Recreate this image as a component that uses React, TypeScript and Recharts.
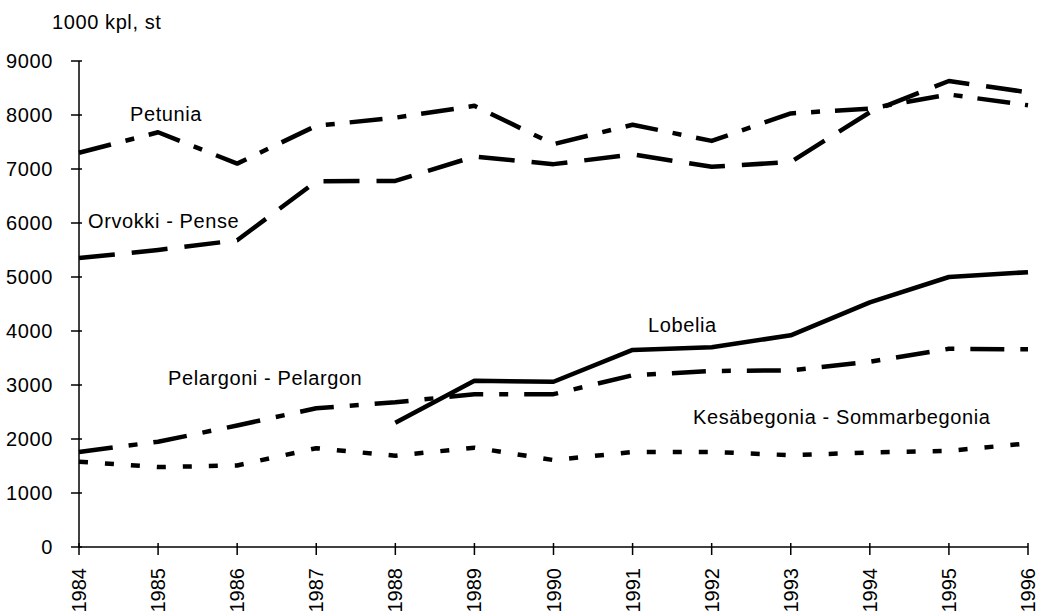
import React from 'react';
import { LineChart, Line, XAxis, YAxis, Customized } from 'recharts';

const years = ['1984','1985','1986','1987','1988','1989','1990','1991','1992','1993','1994','1995','1996'];
const petunia = [7300, 7680, 7100, 7800, 7950, 8170, 7460, 7820, 7520, 8030, 8120, 8380, 8180];
const orvokki = [5350, 5500, 5680, 6770, 6780, 7230, 7090, 7270, 7040, 7130, 8050, 8630, 8420];
const lobelia = [null, null, null, null, 2300, 3080, 3060, 3650, 3700, 3920, 4530, 5000, 5090];
const pelargoni = [1760, 1950, 2250, 2570, 2680, 2830, 2830, 3180, 3260, 3270, 3430, 3670, 3660];
const kesabegonia = [1580, 1480, 1510, 1830, 1690, 1840, 1610, 1760, 1760, 1700, 1750, 1780, 1920];
const yTicks = [0, 1000, 2000, 3000, 4000, 5000, 6000, 7000, 8000, 9000];

const data = years.map((y, i) => ({
  year: y,
  petunia: petunia[i],
  orvokki: orvokki[i],
  lobelia: lobelia[i],
  pelargoni: pelargoni[i],
  kesabegonia: kesabegonia[i],
}));

const FONT = '"Liberation Sans", Arial, sans-serif';
const FS = 20;
const LS = 0.6;

const YTick = (props: any) => {
  const { x, y, payload } = props;
  const ax = x + 6;
  return (
    <g>
      <line x1={ax - 6} x2={ax + 5} y1={y} y2={y} stroke="#000" strokeWidth={1.5} />
      <text x={ax - 24} y={y + 7} textAnchor="end" fontFamily={FONT} fontSize={FS} letterSpacing={LS} fill="#000">
        {payload.value}
      </text>
    </g>
  );
};

const XTick = (props: any) => {
  const { x, y, payload } = props;
  const ay = y - 6;
  const tx = x + 7;
  const ty = ay + 19;
  return (
    <g>
      <line x1={x} x2={x} y1={ay - 6} y2={ay + 6} stroke="#000" strokeWidth={1.5} />
      <text x={tx} y={ty} textAnchor="end" transform={`rotate(-90, ${tx}, ${ty})`} fontFamily={FONT} fontSize={FS} fill="#000">
        {payload.value}
      </text>
    </g>
  );
};

const Annotations = () => (
  <g fontFamily={FONT} fontSize={FS} fill="#000" letterSpacing={LS}>
    <text x={52} y={29}>1000 kpl, st</text>
    <text x={130} y={121}>Petunia</text>
    <text x={88} y={228}>Orvokki - Pense</text>
    <text x={648} y={332}>Lobelia</text>
    <text x={168} y={385}>Pelargoni - Pelargon</text>
    <text x={693} y={424}>Kesäbegonia - Sommarbegonia</text>
  </g>
);

export default function App() {
  return (
    <div style={{ position: 'absolute', left: 0, top: 0, background: '#fff' }}>
      <LineChart
        width={1038}
        height={611}
        data={data}
        margin={{ top: 61, right: 10, bottom: 0, left: 0 }}
      >
        <XAxis
          dataKey="year"
          height={64}
          axisLine={{ stroke: '#000', strokeWidth: 1.5 }}
          tickLine={false}
          tick={<XTick />}
          interval={0}
          padding={{ left: 0, right: 0 }}
        />
        <YAxis
          width={79}
          domain={[0, 9000]}
          ticks={yTicks}
          axisLine={{ stroke: '#000', strokeWidth: 1.5 }}
          tickLine={false}
          tick={<YTick />}
          interval={0}
        />
        <Line dataKey="petunia" stroke="#000" strokeWidth={4.5} strokeDasharray="33 15 9 15" dot={false} isAnimationActive={false} strokeLinejoin="round" />
        <Line dataKey="orvokki" stroke="#000" strokeWidth={4.5} strokeDasharray="36 17" dot={false} isAnimationActive={false} strokeLinejoin="round" />
        <Line dataKey="lobelia" stroke="#000" strokeWidth={4.5} dot={false} isAnimationActive={false} strokeLinejoin="round" connectNulls={false} />
        <Line dataKey="pelargoni" stroke="#000" strokeWidth={4.5} strokeDasharray="34 16 9 16" dot={false} isAnimationActive={false} strokeLinejoin="round" />
        <Line dataKey="kesabegonia" stroke="#000" strokeWidth={4.5} strokeDasharray="9 17" dot={false} isAnimationActive={false} strokeLinejoin="round" />
        <Customized component={Annotations} />
      </LineChart>
    </div>
  );
}
